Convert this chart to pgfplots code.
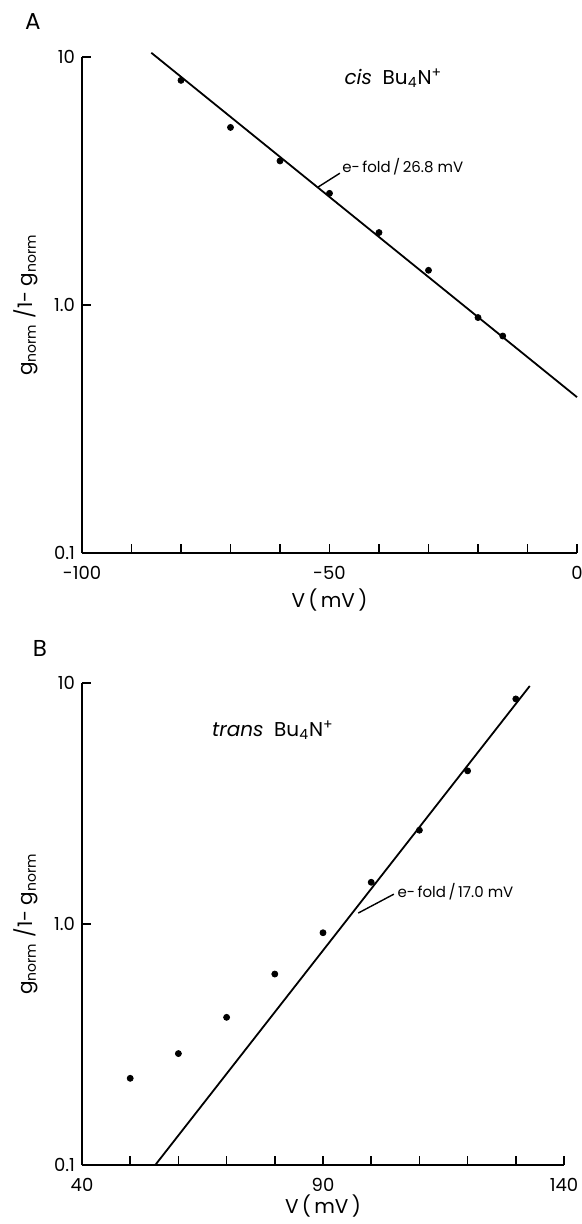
\documentclass[border=0pt]{standalone}
\usepackage{fontspec}
\setmainfont{Poppins}
\usepackage{pgfplots}
\pgfplotsset{compat=1.18}

% 1 px of the reference = 0.5pt
\pgfplotsset{
  every tick label/.append style={font=\fontsize{9}{10}\selectfont},
  every axis label/.append style={font=\fontsize{10}{12}\selectfont},
}

\begin{document}
\begin{tikzpicture}
\path[use as bounding box] (0pt,0pt) rectangle (291pt,-612pt);

\node[font=\fontsize{11.5}{12}\selectfont] at (16.5pt,-11pt) {A};
\node[font=\fontsize{11.5}{12}\selectfont] at (20pt,-324pt) {B};

% panel A: cis
\begin{axis}[scale only axis, anchor=south west,
  at={(41pt,-276.5pt)}, width=247.5pt, height=248pt,
  ymode=log, ymin=0.1, ymax=10,
  ytick={0.1,1,10}, yticklabels={0.1,1.0,10},
  xmin=-100, xmax=0,
  xtick={-100,-90,...,0}, xticklabels={-100,,,,,-50,,,,,0},
  axis lines=left, axis line style={-, line width=0.9pt},
  tick style={line width=0.8pt, black},
  minor y tick style={draw=none},
  tick align=inside, major tick length=4.5pt,
  xticklabel style={yshift=-3pt},
  xlabel={V\,(\,mV\,)},
  ylabel={g\textsubscript{norm} /1- g\textsubscript{norm}},
  xlabel style={at={(axis description cs:0.5,-0.095)}, anchor=center},
  ylabel style={at={(axis description cs:-0.113,0.5)}, anchor=center},
  clip=false]
\addplot[only marks, mark=*, mark size=1.5pt, black] coordinates {
  (-80,8.05) (-70,5.2) (-60,3.81) (-50,2.82) (-40,1.96) (-30,1.38) (-20,0.89) (-15,0.75)
};
\addplot[black, line width=0.9pt, no marks] coordinates {(-86,10.4) (0,0.425)};
\draw[line width=0.7pt] (axis cs:-52.3,2.99) -- (axis cs:-47.9,3.40);
\node[anchor=west, inner sep=0pt, font=\fontsize{7.5}{9}\selectfont]
  at (axis cs:-47.5,3.6) {e-\,fold\,/\,26.8 mV};
\node[font=\fontsize{10}{11}\selectfont]
  at (axis cs:-37.1,8.2) {\textit{cis}\ \ Bu\textsubscript{4}N\textsuperscript{+}};
\end{axis}

% panel B: trans
\begin{axis}[scale only axis, anchor=south west,
  at={(41pt,-582.5pt)}, width=241pt, height=241pt,
  ymode=log, ymin=0.1, ymax=10,
  ytick={0.1,1,10}, yticklabels={0.1,1.0,10},
  xmin=40, xmax=140,
  xtick={40,50,...,140}, xticklabels={40,,,,,90,,,,,140},
  axis lines=left, axis line style={-, line width=0.9pt},
  tick style={line width=0.8pt, black},
  minor y tick style={draw=none},
  tick align=inside, major tick length=4.5pt,
  xticklabel style={yshift=-3pt},
  xlabel={V\,(\,mV\,)},
  ylabel={g\textsubscript{norm} /1- g\textsubscript{norm}},
  xlabel style={at={(axis description cs:0.5,-0.085)}, anchor=center},
  ylabel style={at={(axis description cs:-0.116,0.5)}, anchor=center},
  clip=false]
\addplot[only marks, mark=*, mark size=1.5pt, black] coordinates {
  (50,0.229) (60,0.29) (70,0.41) (80,0.62) (90,0.92) (100,1.49) (110,2.45) (120,4.32) (130,8.59)
};
\addplot[black, line width=0.9pt, no marks] coordinates {(55.2,0.1) (132.9,9.72)};
\draw[line width=0.7pt] (axis cs:97.3,1.11) -- (axis cs:104.7,1.33);
\node[anchor=west, inner sep=0pt, font=\fontsize{7.5}{9}\selectfont]
  at (axis cs:105.4,1.36) {e-\,fold\,/\,17.0 mV};
\node[font=\fontsize{10}{11}\selectfont]
  at (axis cs:79.6,6.38) {\textit{trans}\ \ Bu\textsubscript{4}N\textsuperscript{+}};
\end{axis}
\end{tikzpicture}
\end{document}
